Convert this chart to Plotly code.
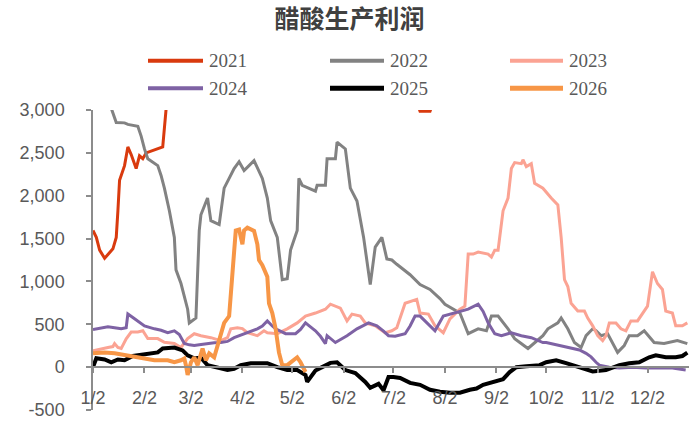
import pandas as pd
import plotly.graph_objects as go

# ---- data: day of year (common calendar) and production profit per year ----
doy_2021 = [2, 4, 6, 9, 14, 16, 17, 18, 21, 23, 25, 28, 30, 32, 34, 44, 46,
            49, 60, 80, 110, 140, 170, 185, 196, 199, 205, 208, 230, 260, 290, 320, 345, 360]
val_2021 = [1594, 1514, 1365, 1270, 1380, 1514, 1824, 2180, 2351, 2569, 2480, 2317, 2466, 2432, 2500, 2569, 3005,
            3500, 4300, 5200, 5600, 4800, 4000, 3500, 3150, 2985, 2985, 3150, 3800, 4600, 5200, 4800, 4200, 4000]

doy_2022 = [2, 8, 13, 16, 21, 23, 29, 31, 33, 35, 41, 43, 45, 48, 51, 52, 55, 59, 60, 64,
            66, 67, 71, 73, 78, 81, 84, 87, 90, 93, 99, 104, 107, 109, 113, 116, 119, 121, 125, 126,
            128, 136, 137, 142, 143, 148, 149, 154, 157, 161, 165, 169, 172, 176, 179, 182, 185, 189, 193, 199,
            205, 211, 214, 223, 228, 234, 239, 242, 246, 252, 256, 264, 268, 273, 276, 282, 284, 288, 292, 296,
            299, 303, 305, 308, 312, 318, 322, 325, 330, 334, 340, 346, 354, 360]
val_2022 = [3450, 3250, 3020, 2855, 2850, 2832, 2810, 2695, 2546, 2432, 2351, 2237, 2088, 1824, 1514, 1135, 975, 676, 516, 573,
            1594, 1778, 1973, 1709, 1663, 2088, 2202, 2317, 2397, 2294, 2409, 2202, 1973, 1709, 1514, 1021, 1032, 1365, 1594, 2202,
            2122, 2053, 2122, 2122, 2432, 2432, 2626, 2546, 2088, 1938, 1514, 963, 1400, 1514, 1262, 1250, 1200, 1135, 1078, 963,
            906, 800, 734, 631, 390, 447, 424, 596, 596, 447, 333, 218, 287, 367, 447, 516, 573, 447, 287, 229,
            367, 447, 424, 367, 390, 172, 252, 367, 367, 424, 287, 275, 310, 275]

doy_2023 = [2, 6, 11, 14, 15, 17, 19, 22, 25, 29, 32, 35, 41, 45, 51, 55, 59, 63, 67, 73,
            79, 83, 85, 89, 92, 95, 101, 105, 107, 113, 119, 125, 130, 136, 142, 145, 151, 155, 158, 163,
            166, 172, 178, 182, 185, 190, 194, 197, 199, 204, 208, 213, 217, 223, 226, 228, 231, 234, 240, 242,
            244, 246, 249, 252, 254, 256, 260, 261, 263, 266, 268, 273, 278, 282, 284, 286, 288, 290, 294, 298,
            300, 303, 306, 309, 311, 313, 317, 320, 323, 326, 330, 332, 336, 339, 342, 345, 347, 351, 353, 357, 360]
val_2023 = [190, 210, 229, 240, 275, 230, 218, 330, 410, 410, 424, 333, 333, 290, 275, 230, 333, 390, 367, 344,
            310, 344, 447, 459, 450, 401, 367, 424, 401, 390, 447, 516, 596, 631, 676, 734, 688, 539, 619, 596,
            516, 482, 401, 424, 459, 745, 768, 791, 631, 619, 482, 401, 562, 676, 711, 1319, 1319, 1342, 1319, 1284,
            1365, 1365, 1824, 1973, 2317, 2386, 2374, 2420, 2340, 2374, 2145, 2088, 1973, 1892, 1514, 1021, 940, 745, 654, 654,
            573, 482, 367, 310, 367, 516, 516, 447, 424, 539, 539, 596, 711, 1112, 975, 906, 654, 631, 482, 482, 516]

doy_2024 = [2, 6, 11, 15, 19, 22, 23, 26, 29, 33, 39, 43, 47, 51, 54, 57, 60, 63, 66, 71,
            75, 79, 83, 87, 92, 95, 101, 104, 107, 110, 112, 118, 124, 127, 130, 133, 136, 139, 142, 143,
            148, 155, 161, 168, 173, 177, 180, 184, 190, 193, 196, 199, 205, 208, 213, 220, 228, 234, 237, 240,
            244, 248, 254, 260, 266, 273, 275, 283, 291, 295, 299, 302, 305, 307, 313, 319, 327, 335, 343, 351, 359]
val_2024 = [440, 455, 470, 460, 447, 460, 620, 580, 540, 480, 447, 430, 401, 424, 380, 275, 260, 252, 260, 275,
            285, 287, 300, 344, 380, 401, 447, 480, 539, 480, 447, 390, 390, 440, 516, 470, 424, 360, 275, 367,
            287, 367, 447, 516, 482, 420, 367, 360, 390, 480, 596, 596, 482, 424, 596, 631, 676, 734, 650, 516,
            390, 367, 401, 367, 344, 287, 287, 252, 218, 200, 161, 120, 57, 23, 0, -11, 0, -11, -11, -11, -34]

doy_2025 = [2, 4, 9, 13, 17, 21, 26, 32, 37, 41, 44, 47, 51, 56, 59, 63, 67, 71, 75, 79,
            83, 87, 91, 97, 103, 107, 113, 119, 125, 130, 131, 136, 140, 145, 149, 154, 160, 166, 169, 174,
            177, 180, 183, 187, 193, 199, 205, 211, 217, 223, 229, 233, 237, 243, 249, 253, 257, 263, 271, 275,
            281, 287, 295, 303, 311, 319, 325, 331, 337, 341, 347, 353, 357, 360]
val_2025 = [0, 103, 90, 57, 90, 80, 130, 150, 161, 172, 218, 225, 229, 195, 138, 103, 110, 23, 0, -11,
            -34, -20, 23, 46, 46, 46, 0, -34, -34, -92, -172, -40, 0, 50, 57, -34, -69, -172, -241, -195,
            -270, -115, -115, -126, -184, -206, -264, -287, -298, -298, -264, -250, -206, -172, -140, -57, 0, 10, 23, 57,
            80, 46, 0, -50, -34, 23, 46, 57, 115, 138, 115, 115, 130, 170]

doy_2026 = [2, 9, 15, 21, 27, 33, 39, 47, 51, 55, 57, 58, 59, 61, 63, 65, 68, 70, 72, 75,
            77, 79, 81, 84, 86, 88, 90, 92, 93, 95, 99, 101, 102, 104, 107, 108, 110, 112, 114, 116,
            119, 121, 125, 127, 130]
val_2026 = [161, 172, 161, 138, 115, 103, 80, 80, 57, 80, 100, 20, -92, 57, 115, 23, 218, 80, 161, 115,
            252, 401, 516, 596, 1100, 1594, 1605, 1433, 1594, 1628, 1590, 1433, 1250, 1190, 1055, 745, 631, 447, 172, 23,
            23, 57, 115, 57, -57]

series = [
    ("2021", doy_2021, val_2021, "#D93A0E", 3),
    ("2022", doy_2022, val_2022, "#828282", 3),
    ("2023", doy_2023, val_2023, "#FBA393", 3),
    ("2024", doy_2024, val_2024, "#7E62A4", 3),
    ("2025", doy_2025, val_2025, "#000000", 4),
    ("2026", doy_2026, val_2026, "#F79646", 4),
]

month_ticks = ["2021-%02d-02" % m for m in range(1, 13)]
month_labels = ["1/2", "2/2", "3/2", "4/2", "5/2", "6/2", "7/2", "8/2", "9/2", "10/2", "11/2", "12/2"]
y_ticks = [-500, 0, 500, 1000, 1500, 2000, 2500, 3000]
y_labels = ["-500", "0", "500", "1,000", "1,500", "2,000", "2,500", "3,000"]
y_min, y_max = -500, 3000

W, H = 699, 430
L, R, T, B = 93, 10, 110, 15
BASE = pd.Timestamp("2021-01-01")


def to_dates(doy):
    return [BASE + pd.Timedelta(days=d - 1) for d in doy]


def px_x(px):
    return (px - L) / (W - L - R)


def px_y(py):
    return (H - B - py) / (H - T - B)


fig = go.Figure()
for name, doy, vals, color, width in series:
    fig.add_trace(go.Scatter(
        x=to_dates(doy), y=vals, mode="lines", name=name,
        line=dict(color=color, width=width, shape="linear"),
        showlegend=False, hoverinfo="skip",
    ))

# two-row, three-column legend drawn as line swatches plus labels
legend_cols = [(148, 203), (330, 384), (510, 563)]
legend_rows = [60, 88]
shapes, annotations = [], []
for i, (name, _, _, color, width) in enumerate(series):
    x0, x1 = legend_cols[i % 3]
    yy = legend_rows[i // 3]
    shapes.append(dict(type="line", xref="paper", yref="paper",
                       x0=px_x(x0), x1=px_x(x1), y0=px_y(yy), y1=px_y(yy),
                       line=dict(color=color, width=width + 1)))
    annotations.append(dict(text=name, xref="paper", yref="paper",
                            x=px_x(x1 + 4), y=px_y(yy), xanchor="left", yanchor="middle",
                            showarrow=False,
                            font=dict(family="Liberation Serif", size=19, color="#595959")))

axis_color = "#8C8C8C"
fig.update_layout(
    width=W, height=H,
    margin=dict(l=L, r=R, t=T, b=B, pad=0),
    paper_bgcolor="white", plot_bgcolor="white",
    title=dict(text="<b>醋酸生产利润</b>", x=0.5, xanchor="center",
               y=1 - 19 / H, yanchor="middle",
               font=dict(family="Noto Sans CJK SC", size=25, color="#404040")),
    shapes=shapes, annotations=annotations,
    xaxis=dict(
        type="date", range=["2021-01-02", "2021-12-27"],
        anchor="free", position=(0 - y_min) / (y_max - y_min),
        showline=True, linecolor=axis_color, linewidth=1.5,
        ticks="outside", ticklen=5, tickwidth=1.5, tickcolor=axis_color,
        tickvals=month_ticks, ticktext=month_labels,
        tickfont=dict(family="Liberation Sans", size=18, color="#595959"),
        ticklabelstandoff=10,
        showgrid=False, zeroline=False,
    ),
    yaxis=dict(
        range=[y_min, y_max],
        showline=True, linecolor=axis_color, linewidth=1.5,
        ticks="outside", ticklen=5, tickwidth=1.5, tickcolor=axis_color,
        tickvals=y_ticks, ticktext=y_labels,
        tickfont=dict(family="Liberation Sans", size=18, color="#595959"),
        ticklabelstandoff=18,
        showgrid=False, zeroline=False,
    ),
)

fig.write_html("out.html")
